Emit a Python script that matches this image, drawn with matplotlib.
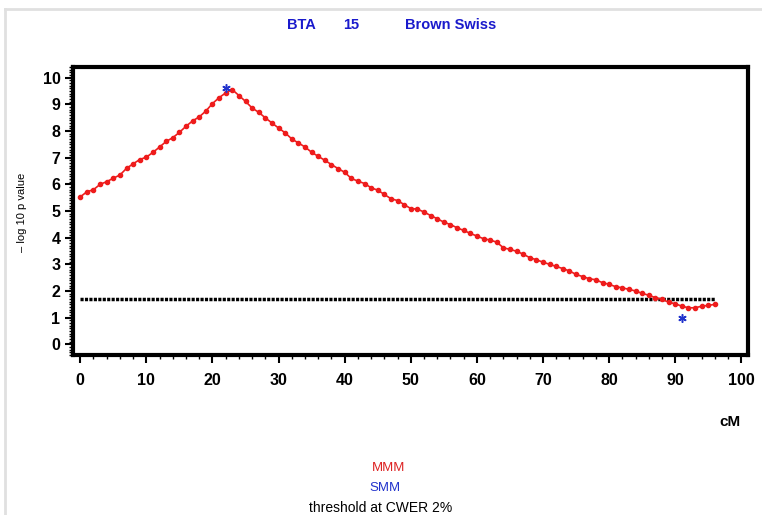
import numpy as np
import matplotlib
matplotlib.use("Agg")
import matplotlib.pyplot as plt
from matplotlib.lines import Line2D
from matplotlib.ticker import MultipleLocator

plt.rcParams['font.family'] = ['Liberation Sans', 'DejaVu Sans']

# -log10 p profile along BTA 15, one position per cM
cm = list(range(0, 97))
mmm = [5.53, 5.72, 5.80, 6.00, 6.10, 6.23, 6.35, 6.60, 6.77, 6.93,
       7.02, 7.20, 7.40, 7.61, 7.75, 7.95, 8.18, 8.38, 8.53, 8.75,
       9.03, 9.25, 9.43, 9.55, 9.33, 9.11, 8.86, 8.70, 8.49, 8.30,
       8.11, 7.93, 7.70, 7.55, 7.40, 7.20, 7.05, 6.90, 6.74, 6.59,
       6.45, 6.22, 6.12, 6.03, 5.87, 5.78, 5.62, 5.46, 5.39, 5.24,
       5.09, 5.07, 4.96, 4.83, 4.71, 4.58, 4.49, 4.37, 4.27, 4.16,
       4.06, 3.96, 3.91, 3.83, 3.62, 3.56, 3.49, 3.38, 3.25, 3.17,
       3.08, 3.00, 2.92, 2.84, 2.75, 2.62, 2.54, 2.46, 2.42, 2.31,
       2.25, 2.16, 2.12, 2.06, 2.00, 1.91, 1.84, 1.75, 1.69, 1.58,
       1.52, 1.43, 1.37, 1.37, 1.43, 1.46, 1.50]
smm_cm = [22, 91]
smm = [9.60, 0.97]
threshold_cm = [0, 96]
threshold = 1.7

fig = plt.figure(figsize=(7.62, 5.15), dpi=100)
ax = fig.add_axes([73/762, 1 - 355/515, (748 - 73)/762, (355 - 67)/515])

ax.plot(threshold_cm, [threshold, threshold], color='black', lw=2.5,
        linestyle=(0, (0.9, 0.38)), solid_capstyle='butt', zorder=2)
ax.plot(cm, mmm, color='#ee1c1c', lw=1.2, marker='o', ms=3.0,
        mec='#ee1c1c', mfc='#ee1c1c', zorder=3)
ax.plot(smm_cm, smm, linestyle='none', marker=(6, 2, 0), ms=6,
        mew=1.1, color='#2233cc', zorder=4)

ax.set_xlim(-1.1, 101)
ax.set_ylim(-0.4, 10.4)
ax.xaxis.set_major_locator(MultipleLocator(10))
ax.xaxis.set_minor_locator(MultipleLocator(2))
ax.yaxis.set_major_locator(MultipleLocator(1))
ax.yaxis.set_minor_locator(MultipleLocator(0.1))

for s in ax.spines.values():
    s.set_linewidth(3)
ax.tick_params(axis='both', which='major', length=6, width=1.5,
               labelsize=11.5, direction='out')
ax.tick_params(axis='x', which='major', pad=7)
ax.tick_params(axis='y', which='major', pad=3)
ax.tick_params(axis='both', which='minor', length=3, width=1.0, direction='out')
for lab in ax.get_xticklabels() + ax.get_yticklabels():
    lab.set_fontweight('bold')

# heading
fig.text(287/762, 1 - 25/515, "BTA", color='#1a1acc', fontsize=10.5,
         fontweight='bold', va='center', ha='left')
fig.text(343/762, 1 - 25/515, "15", color='#1a1acc', fontsize=10.5,
         fontweight='bold', va='center', ha='left')
fig.text(405/762, 1 - 25/515, "Brown Swiss", color='#1a1acc', fontsize=10.5,
         fontweight='bold', va='center', ha='left')

fig.text(22/762, 1 - 212/515, "\u2013 log 10 p value", rotation=90,
         fontsize=8, va='center', ha='center')
fig.text(730/762, 1 - 422/515, "cM", fontsize=11, fontweight='bold',
         va='center', ha='center')

# legend entries
fig.text(389/762, 1 - 468/515, "MMM", color='#dd2222', fontsize=9.5,
         va='center', ha='center')
fig.text(385/762, 1 - 488/515, "SMM", color='#2233cc', fontsize=9.5,
         va='center', ha='center')
fig.text(381/762, 1 - 508/515, "threshold at CWER 2%", color='black',
         fontsize=10, va='center', ha='center')

# light frame along top and left edge
fig.add_artist(Line2D([5/762, 1], [1 - 9/515, 1 - 9/515],
                      transform=fig.transFigure, color='#e0e0e0', lw=2))
fig.add_artist(Line2D([5/762, 5/762], [0, 1 - 9/515],
                      transform=fig.transFigure, color='#e0e0e0', lw=2))

fig.savefig("out.png", dpi=100)
